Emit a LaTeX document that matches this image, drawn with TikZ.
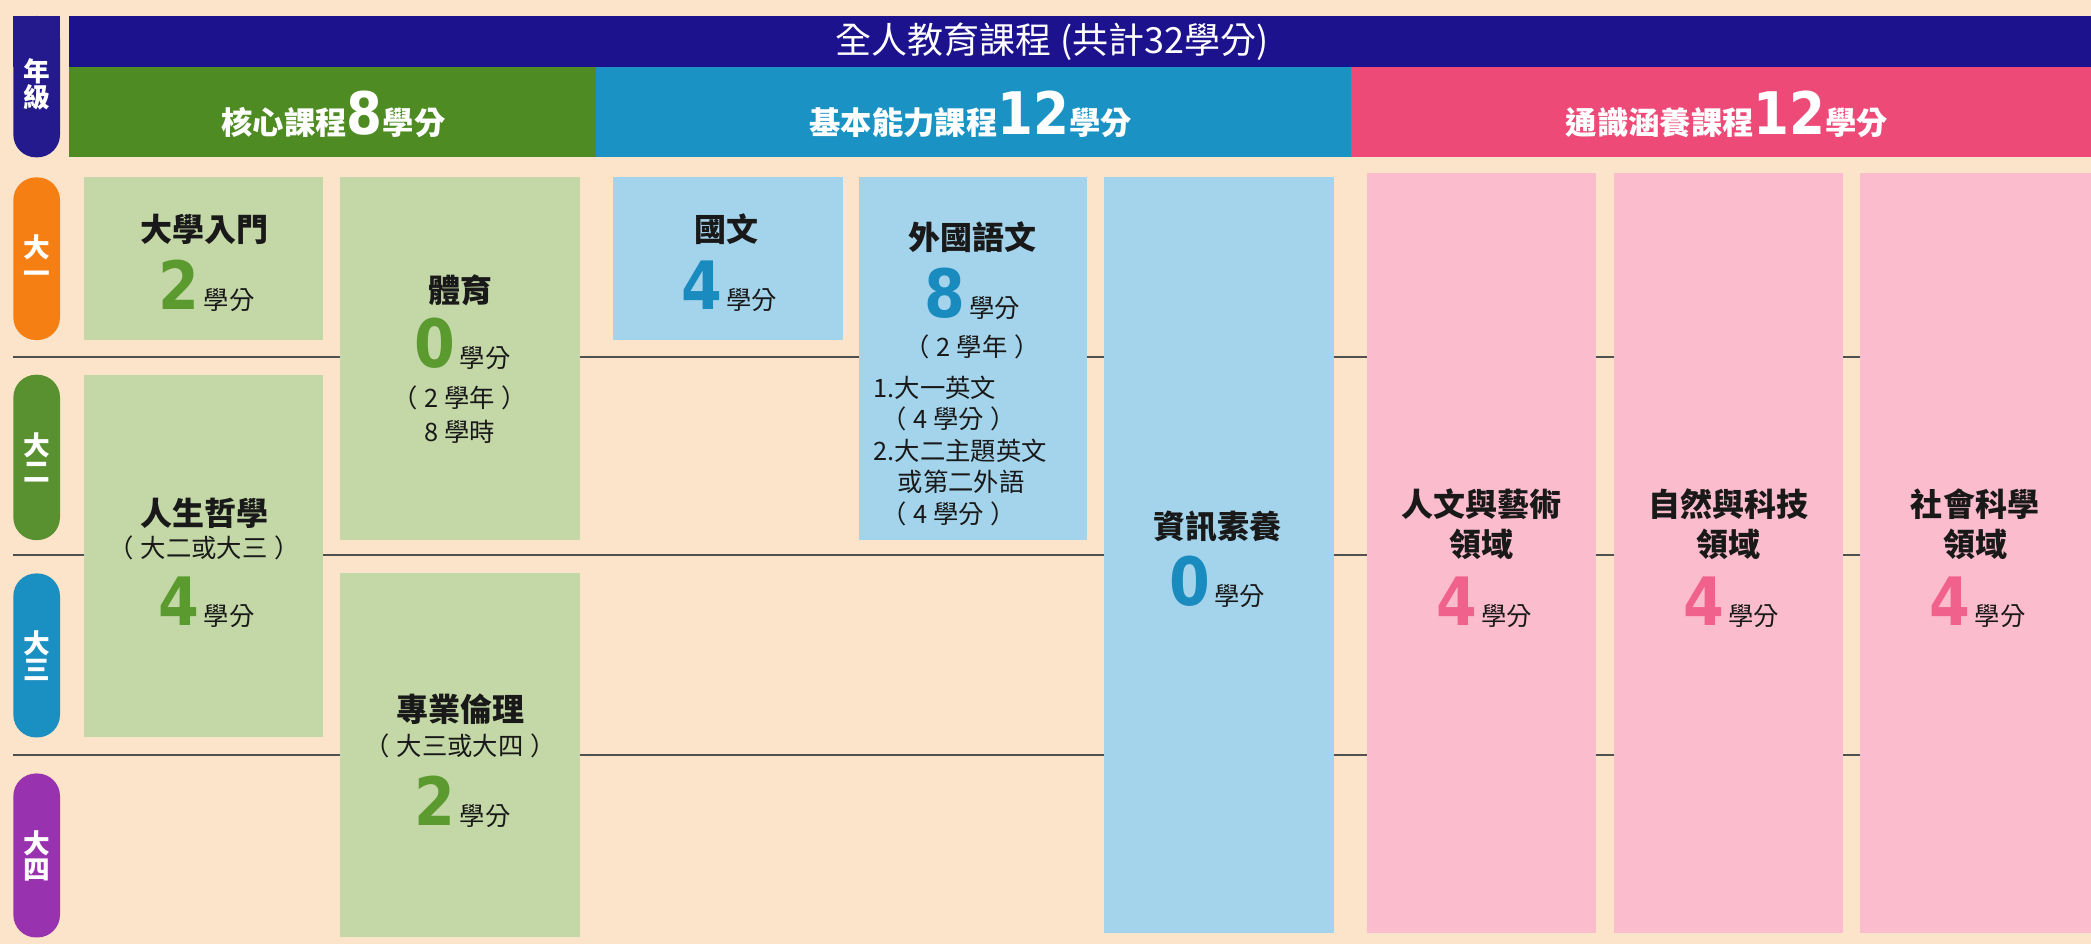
\documentclass[tikz,border=0pt]{standalone}
\usepackage{fontspec}
\setmainfont{Noto Sans CJK TC}
\newfontfamily\digf{DejaVu Sans}[FakeStretch=0.88]
\definecolor{bgc}{HTML}{FCE4CB}
\definecolor{navy}{HTML}{1C128E}
\definecolor{hgreen}{HTML}{4E8B23}
\definecolor{hblue}{HTML}{1A93C4}
\definecolor{hpink}{HTML}{EE4A78}
\definecolor{bgreen}{HTML}{C3D7A7}
\definecolor{bblue}{HTML}{A3D4EB}
\definecolor{bpink}{HTML}{FBBDCE}
\definecolor{dgreen}{HTML}{5A9A2E}
\definecolor{dblue}{HTML}{1A8BBF}
\definecolor{dpink}{HTML}{F0628C}
\definecolor{porange}{HTML}{F57F12}
\definecolor{pgreen}{HTML}{5A9130}
\definecolor{pblue}{HTML}{1A8FC1}
\definecolor{ppurple}{HTML}{9932AF}
\definecolor{pnavy}{HTML}{241A8E}
\definecolor{linec}{HTML}{505050}
\newcommand{\crd}[2]{{\digf\bfseries\fontsize{50}{50}\selectfont\color{#1}#2}\hspace{3pt}{\fontsize{19}{19}\selectfont 學分}}
\newcommand{\hdrtxt}[3]{{\bfseries\fontsize{23.5}{24}\selectfont #1}{\digf\bfseries\fontsize{44}{44}\selectfont #2}{\bfseries\fontsize{23.5}{24}\selectfont #3}}
\newcommand{\lpr}{（\hspace{5pt}}
\newcommand{\rpr}{\hspace{5pt}）}
\tikzset{
  cell/.style={inner sep=0pt, outer sep=0pt, draw=none},
  gbox/.style={cell, fill=bgreen},
  bbox/.style={cell, fill=bblue},
  pbox/.style={cell, fill=bpink},
  pill/.style={cell, rounded corners=17pt, minimum width=35pt},
  pilltxt/.style={text=white, font=\bfseries\fontsize{20}{19.5}\selectfont, align=center, inner sep=0pt},
  ttl/.style={font=\bfseries\fontsize{24}{30}\selectfont, text=black!90, inner sep=0pt, align=center},
  sub/.style={font=\fontsize{19}{23}\selectfont, text=black!90, inner sep=0pt},
  crdn/.style={inner sep=0pt, text=black!90},
  hdtxt/.style={text=white, inner sep=0pt},
  rowline/.style={draw=linec, line width=1.6pt}
}
\begin{document}
\begin{tikzpicture}[x=1pt,y=-1pt]
\useasboundingbox (0,0) rectangle (1568,708);
\fill[bgc] (0,0) rectangle (1568,708);
% row lines
\coordinate (l1a) at (10,268); \coordinate (l1b) at (1568,268);
\coordinate (l2a) at (10,416); \coordinate (l2b) at (1568,416);
\coordinate (l3a) at (10,566); \coordinate (l3b) at (1568,566);
\draw[rowline] (l1a) -- (l1b);
\draw[rowline] (l2a) -- (l2b);
\draw[rowline] (l3a) -- (l3b);
% header bars
\node[cell, fill=navy, minimum width=1516pt, minimum height=38pt] (title) at (810,31) {};
\node[cell, fill=hgreen, minimum width=395pt, minimum height=68pt] (hg) at (249.5,84) {};
\node[cell, fill=hblue, minimum width=566pt, minimum height=68pt] (hb) at (730,84) {};
\node[cell, fill=hpink, minimum width=555pt, minimum height=68pt] (hp) at (1290.5,84) {};
\node[hdtxt, font=\fontsize{27}{30}\selectfont] (titletxt) at (789,31) {全人教育課程 (共計32學分)};
\node[hdtxt] (hgt) at (250,86) {\hdrtxt{核心課程}{8}{學分}};
\node[hdtxt] (hbt) at (728,86) {\hdrtxt{基本能力課程}{12}{學分}};
\node[hdtxt] (hpt) at (1295,86) {\hdrtxt{通識涵養課程}{12}{學分}};
% grade pills
\fill[pnavy, rounded corners=17pt] (10,12) rectangle (45,118);
\fill[pnavy] (10,12) rectangle (45,50);
\node[pilltxt] (nj) at (27.5,63) {年\\級};
\node[pill, fill=porange, minimum height=122pt] (y1) at (27.5,194) {};
\node[pill, fill=pgreen, minimum height=124pt] (y2) at (27.5,343) {};
\node[pill, fill=pblue, minimum height=123pt] (y3) at (27.5,491.5) {};
\node[pill, fill=ppurple, minimum height=123pt] (y4) at (27.5,641.5) {};
\node[pilltxt] (y1t) at (y1.center) {大\\一};
\node[pilltxt] (y2t) at (y2.center) {大\\二};
\node[pilltxt] (y3t) at (y3.center) {大\\三};
\node[pilltxt] (y4t) at (y4.center) {大\\四};
% core boxes
\node[gbox, minimum width=179pt, minimum height=122pt] (rumen) at (152.5,194) {};
\node[gbox, minimum width=180pt, minimum height=272pt] (tiyu) at (345,269) {};
\node[gbox, minimum width=179pt, minimum height=272pt] (rensheng) at (152.5,417) {};
\node[gbox, minimum width=180pt, minimum height=273pt] (zhuanye) at (345,566.5) {};
% basic boxes
\node[bbox, minimum width=172pt, minimum height=122pt] (guowen) at (546,194) {};
\node[bbox, minimum width=171pt, minimum height=272pt] (waiguo) at (729.5,269) {};
\node[bbox, minimum width=172pt, minimum height=567pt] (zixun) at (914,416.5) {};
% general boxes
\node[pbox, minimum width=172pt, minimum height=570pt] (renwen) at (1111,415) {};
\node[pbox, minimum width=172pt, minimum height=570pt] (ziran) at (1296,415) {};
\node[pbox, minimum width=173pt, minimum height=570pt] (shehui) at (1481.5,415) {};
% texts core
\node[ttl] (rumenT) at (153,172) {大學入門};
\node[crdn] (rumenC) at (155,214) {\crd{dgreen}{2}};
\node[ttl] (tiyuT) at (345,218) {體育};
\node[crdn] (tiyuC) at (347,258) {\crd{dgreen}{0}};
\node[sub] (tiyuS1) at (345,298) {\lpr 2 學年\rpr};
\node[sub] (tiyuS2) at (345,324) {8 學時};
\node[ttl] (renshengT) at (153,385) {人生哲學};
\node[sub] (renshengS) at (153,411) {\lpr 大二或大三\rpr};
\node[crdn] (renshengC) at (155,452) {\crd{dgreen}{4}};
\node[ttl] (zhuanyeT) at (345,532) {專業倫理};
\node[sub] (zhuanyeS) at (345,559) {\lpr 大三或大四\rpr};
\node[crdn] (zhuanyeC) at (347,601) {\crd{dgreen}{2}};
% texts basic
\node[ttl] (guowenT) at (545,172) {國文};
\node[crdn] (guowenC) at (547,215) {\crd{dblue}{4}};
\node[ttl] (waiguoT) at (729,178) {外國語文};
\node[crdn] (waiguoC) at (729,220) {\crd{dblue}{8}};
\node[sub] (waiguoS) at (729,260) {\lpr 2 學年\rpr};
\node[sub, anchor=west] (wl1) at (655,291) {1.大一英文};
\node[sub, anchor=west] (wl2) at (661,314) {\lpr 4 學分\rpr};
\node[sub, anchor=west] (wl3) at (655,338) {2.大二主題英文};
\node[sub, anchor=west] (wl4) at (673,361) {或第二外語};
\node[sub, anchor=west] (wl5) at (661,385) {\lpr 4 學分\rpr};
\node[ttl] (zixunT) at (913,395) {資訊素養};
\node[crdn] (zixunC) at (913,436) {\crd{dblue}{0}};
% texts general
\node[ttl] (renwenT) at (1111,393) {人文與藝術\\領域};
\node[crdn] (renwenC) at (1113,452) {\crd{dpink}{4}};
\node[ttl] (ziranT) at (1296,393) {自然與科技\\領域};
\node[crdn] (ziranC) at (1298,452) {\crd{dpink}{4}};
\node[ttl] (shehuiT) at (1481,393) {社會科學\\領域};
\node[crdn] (shehuiC) at (1483,452) {\crd{dpink}{4}};
\end{tikzpicture}
\end{document}
